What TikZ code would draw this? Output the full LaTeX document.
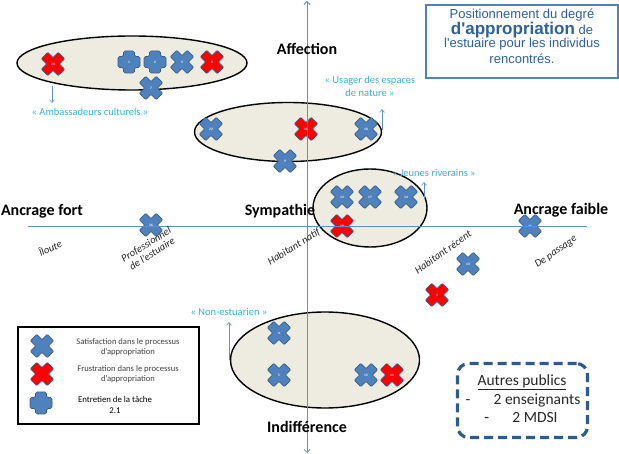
\documentclass[tikz,border=0pt]{standalone}
\usepackage{fontspec}
\setmainfont{Carlito}
\newfontfamily\arialf{Liberation Sans}
\usetikzlibrary{arrows.meta,shapes.geometric}
\definecolor{mkblue}{HTML}{4F81BD}
\definecolor{mkedge}{HTML}{385D8A}
\definecolor{mkred}{HTML}{FF0000}
\definecolor{axisblue}{HTML}{5B8FD0}
\definecolor{aqua}{HTML}{3FAED4}
\definecolor{beige}{HTML}{EEECE1}
\definecolor{titleblue}{HTML}{2F5F9F}
\definecolor{titleedge}{HTML}{4F81BD}
\definecolor{dashblue}{HTML}{2E5C8A}
\newcommand\mkX[4]{\pic[fill=#3] at #2 {xshp}; \node[numtxt] (#1) at #2 {#4};}
\newcommand\mkP[3]{\pic[fill=mkblue] at #2 {pshp}; \node[numtxt] (#1) at #2 {#3};}
\begin{document}
\begin{tikzpicture}[x=1pt,y=-1pt,
  ell/.style={ellipse, draw=black, line width=1.4pt, fill=beige, inner sep=0pt},
  boldlbl/.style={font=\fontsize{16}{18}\selectfont\bfseries, text=black, inner sep=0pt},
  tag/.style={font=\fontsize{10.5}{13}\selectfont, text=aqua, align=center, inner sep=0pt},
  axlbl/.style={font=\fontsize{10.5}{11}\selectfont\itshape, text=black!85, align=center, inner sep=0pt},
  numtxt/.style={font=\fontsize{3.5}{4}\selectfont\bfseries, text=white, inner sep=0pt},
  tagarrow/.style={draw=axisblue, line width=0.6pt, -{Straight Barb[length=3pt,width=5pt]}},
  axisline/.style={draw=axisblue, line width=0.8pt},
  legtxt/.style={font=\fontsize{8.6}{10.5}\selectfont, text=black!75, align=center, inner sep=0pt},
  titletxt/.style={font=\arialf\fontsize{13}{14}\selectfont, text=titleblue, inner sep=0pt},
  aptxt/.style={font=\fontsize{15.5}{17}\selectfont, text=black!85, inner sep=0pt},
  xshp/.pic={\path[pic actions, draw=mkedge, line width=0.7pt, rotate=45, rounded corners=0.8pt]
     (-4.5,-12) -- (4.5,-12) -- (4.5,-4.5) -- (12,-4.5) -- (12,4.5) -- (4.5,4.5) -- (4.5,12)
     -- (-4.5,12) -- (-4.5,4.5) -- (-12,4.5) -- (-12,-4.5) -- (-4.5,-4.5) -- cycle;},
  pshp/.pic={\path[pic actions, draw=mkedge, line width=0.7pt, rounded corners=1.5pt]
     (-5.5,-11) -- (5.5,-11) -- (5.5,-5.5) -- (11,-5.5) -- (11,5.5) -- (5.5,5.5) -- (5.5,11)
     -- (-5.5,11) -- (-5.5,5.5) -- (-11,5.5) -- (-11,-5.5) -- (-5.5,-5.5) -- cycle;}
]
\useasboundingbox[fill=white] (0,0) rectangle (619,454);

% ellipses
\node[ell, minimum width=230pt, minimum height=54pt] (e1) at (132,63) {};
\node[ell, minimum width=187pt, minimum height=59pt] (e2) at (288,132) {};
\node[ell, minimum width=114pt, minimum height=78pt] (e3) at (370,208) {};
\node[ell, minimum width=189pt, minimum height=96pt] (e4) at (325,360) {};

% markers
\mkX{m20}{(53,64)}{mkred}{20}
\mkP{m1}{(129,62)}{1}
\mkP{m2}{(155,62)}{2}
\mkX{m3}{(182,62)}{mkblue}{3}
\mkX{m8}{(212,62)}{mkred}{8}
\mkX{m7}{(151,88)}{mkblue}{7}
\mkX{m22}{(211,129)}{mkblue}{22}
\mkX{m18}{(306,129)}{mkred}{18}
\mkX{m10}{(366,129)}{mkblue}{10}
\mkX{m9}{(285,161)}{mkblue}{9}
\mkX{m12}{(342,197)}{mkblue}{12}
\mkX{m17}{(370,197)}{mkblue}{17}
\mkX{m14}{(406,197)}{mkblue}{14}
\mkX{m19}{(342,226)}{mkred}{19}
\mkX{m16}{(151,225)}{mkblue}{16}
\mkX{m21}{(530,226)}{mkblue}{21}
\mkX{m13}{(468,264)}{mkblue}{13}
\mkX{m1b}{(437,295)}{mkred}{1}
\mkX{m4}{(279,333)}{mkblue}{4}
\mkX{m5}{(279,375)}{mkblue}{5}
\mkX{m15}{(366,375)}{mkblue}{15}
\mkX{m11}{(392,375)}{mkred}{11}

% axes
\coordinate (vtop) at (307,1);
\coordinate (vbot) at (307,453);
\coordinate (hl) at (28,226);
\coordinate (hr) at (587,226);
\draw[axisline, {Straight Barb[length=3pt,width=6pt]}-{Straight Barb[length=3pt,width=6pt]}] (vtop) -- (vbot);
\draw[axisline] (hl) -- (hr);

% axis labels
\node[boldlbl] (aff) at (307,49) {Affection};
\node[boldlbl] (sym) at (280,211) {Sympathie};
\node[boldlbl] (af) at (42,211) {Ancrage fort};
\node[boldlbl] (afb) at (561,210) {Ancrage faible};
\node[boldlbl] (ind) at (307,427) {Indifférence};

% rotated labels
\node[axlbl, rotate=25] (il) at (50,248) {Îloute};
\node[axlbl, rotate=32] (pe) at (149,249) {Professionnel\\de l'estuaire};
\node[axlbl, rotate=32] (hn) at (294,247) {Habitant natif};
\node[axlbl, rotate=35] (hrc) at (443,252) {Habitant récent};
\node[axlbl, rotate=35] (dp) at (556,252) {De passage};

% tags
\node[tag] (t1) at (90,112) {« Ambassadeurs culturels »};
\node[tag] (t2) at (370,86) {« Usager des espaces\\de nature »};
\node[tag] (t3) at (434,173) {« Jeunes riverains »};
\node[tag] (t4) at (229,312) {« Non-estuarien »};
\coordinate (a1s) at (52,86); \coordinate (a1e) at (52,103);
\coordinate (a2s) at (382,130); \coordinate (a2e) at (382,109);
\coordinate (a3s) at (424,198); \coordinate (a3e) at (424,182);
\coordinate (a4s) at (229,360); \coordinate (a4e) at (229,322);
\draw[tagarrow] (a1s) -- (a1e);
\draw[tagarrow] (a2s) -- (a2e);
\draw[tagarrow] (a3s) -- (a3e);
\draw[tagarrow] (a4s) -- (a4e);

% legend
\node[draw=black, line width=1.3pt, fill=white, minimum width=181pt, minimum height=97pt, inner sep=0pt] (leg) at (108.5,375.5) {};
\pic[fill=mkblue] at (42,346) {xshp};
\pic[fill=mkred] at (42,374) {xshp};
\pic[fill=mkblue] at (41,403) {pshp};
\node[legtxt] (l1) at (128,347) {Satisfaction dans le processus\\d'appropriation};
\node[legtxt] (l2) at (128,374) {Frustration dans le processus\\d'appropriation};
\node[legtxt, text=black, font=\fontsize{8.8}{10.5}\selectfont] (l3) at (115,405) {Entretien de la tâche\\2.1};

% title box
\node[draw=titleedge, line width=1.2pt, minimum width=192pt, minimum height=73pt, inner sep=0pt] (tb) at (522,41.5) {};
\node[titletxt] (tt1) at (522,15) {Positionnement du degré};
\node[titletxt] (tt2) at (522,30) {{\fontsize{17}{17}\selectfont\bfseries d'appropriation} de};
\node[titletxt] (tt3) at (522,44.5) {l'estuaire pour les individus};
\node[titletxt] (tt4) at (522,59) {rencontrés.};

% autres publics
\node[draw=dashblue, line width=3.2pt, dash pattern=on 9pt off 5pt, rounded corners=11pt, minimum width=130pt, minimum height=74pt, inner sep=0pt] (ap) at (522.5,400.5) {};
\node[aptxt] (ap1) at (522,382) {\underline{Autres publics}};
\node[aptxt] (ap2) at (523,401) {-\hspace{1.5em}2 enseignants};
\node[aptxt] (ap3) at (521,418) {-\hspace{1.5em}2 MDSI};
\end{tikzpicture}
\end{document}
